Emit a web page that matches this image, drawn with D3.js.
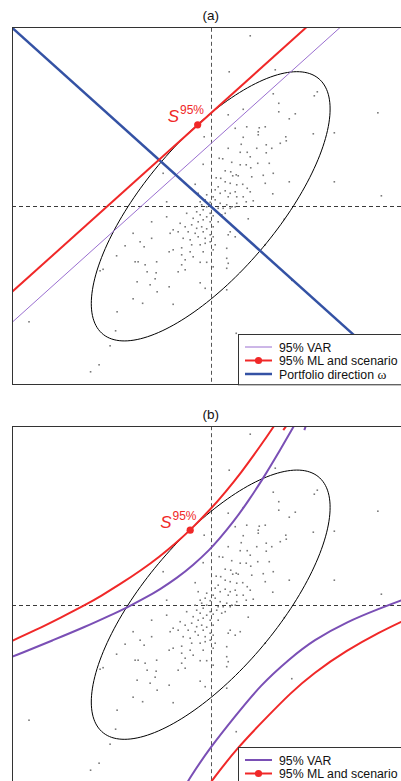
<!DOCTYPE html>
<html>
<head>
<meta charset="utf-8">
<script src="https://cdn.jsdelivr.net/npm/d3@7/dist/d3.min.js"></script>
<style>
  html, body { margin: 0; padding: 0; background: #fff; }
  svg { display: block; font-family: "Liberation Sans", Arial, sans-serif; }
</style>
</head>
<body>
<svg id="chart" width="401" height="781"></svg>
<script>
// ---- axis limits (data units) ----
const xLimits = [-3.97, 3.97];
const yLimits = [-3.57, 3.57];

// ---- panel titles ----
const panelTitles = ["(a)", "(b)"];

// ---- scatter of simulated returns (same sample in both panels) ----
const scatterX = [
  0.79, 0.37, 1.29, 2.13, 2.07, 1.25, 3.34, 0.35, 0.65, 1.36, 1.69, 1.57, 1.36, 0.49, 0.72, 0.97, 1.09,
  0.95, 0.95, 0.65, 1.50, 2.05, -0.13, 1.11, 1.22, 1.39, 1.51, 1.17, 1.25, 1.09, 1.57, 2.47, 1.24, 3.41,
  -1.18, -1.55, -1.41, -1.18, -1.71, -1.88, -1.51, -1.45, -1.08, -1.31, -2.15, -2.21, -1.27, -1.09,
  -1.47, -1.21, -1.07, -0.83, -0.21, 0.32, -1.55, -1.36, -0.75, -1.87, -3.63, -1.90, 0.51, -2.01, -2.23,
  -2.40, 2.47, 1.11, 1.47, 1.09, 1.62, -1.33, -1.11, -0.11, 1.05,
  0.61, 0.35, 0.59, 0.73, 0.79, 0.92, 0.17, 0.24, 0.42, 0.59, 0.71, 0.94, -0.15, 0.80, 0.29, 0.40, -0.95,
  0.51, 0.44, 0.55, 0.82, 0.11, 0.20, -0.31, 0.29, 0.39, 0.52, 0.64, 0.73, 0.15, 0.09, 0.29, 0.19, 0.39,
  0.49, 0.79, -0.25, -0.08, 0.05, 0.35, 0.52, 0.65, -0.21, -0.11, -0.01, -0.18, 0.09, 0.19, 0.32, 0.42,
  0.52, 0.71, 0.85, -0.88, -0.31, -0.08, 0.15, 0.25, 0.39, 0.49, -0.28, -0.15, -0.01, 0.12, -0.21, -0.08,
  0.05, 0.22, 0.29, -0.48, -0.35, -0.25, -0.15, -0.01, 0.15, -0.88, 0.75, -0.61, -0.51, -0.38, -0.28,
  -0.18, -0.08, 0.05, -0.75, -0.65, -0.45, -0.31, -0.15, -0.01, 0.39, -0.81, -0.55, -0.41, -0.25, -0.11,
  0.05, 0.35, 0.49, 0.59, -0.38, -0.21, -0.11, -0.01, 0.09, -0.75, -0.58, -0.41, -0.15, 0.05, 0.32,
  -0.83, -0.58, -0.35, -0.51, -0.21, -0.08, 0.32, 0.35, -0.58, 0.05, 0.32, -0.65, -0.51
];
const scatterY = [
  3.41, 2.69, 2.73, 2.29, 2.21, 2.25, 1.87, 1.83, 1.94, 1.89, 1.85, 1.75, 2.06, 1.56, 1.59, 1.57, 1.59,
  1.49, 1.43, 1.38, 1.39, 1.45, 1.39, 1.23, 1.16, 1.26, 1.31, 0.86, 0.66, 0.46, 0.49, 0.49, 0.25, 0.21,
  -0.31, -0.54, -0.71, -0.64, -0.79, -0.99, -1.11, -1.11, -1.11, -1.17, -1.26, -1.29, -1.31, -1.33,
  -1.51, -1.57, -1.71, -1.61, -1.53, -1.67, -1.85, -1.94, -1.96, -2.11, -2.31, -2.49, -2.54, -2.79, -3.17,
  -3.31, 1.47, 1.07, -0.26, -0.77, -1.48, -0.81, -1.45, -1.64, 0.62,
  1.24, 1.16, 1.08, 1.08, 0.99, 1.16, 0.96, 0.95, 0.88, 0.83, 0.83, 0.86, 0.84, 0.77, 0.71, 0.69, 0.66,
  0.63, 0.61, 0.61, 0.59, 0.57, 0.56, 0.44, 0.49, 0.46, 0.43, 0.44, 0.36, 0.39, 0.33, 0.31, 0.26, 0.26,
  0.29, 0.29, 0.26, 0.23, 0.19, 0.19, 0.19, 0.19, 0.09, 0.13, 0.08, 0.03, 0.13, 0.06, 0.03, -0.01,
  0.06, 0.09, 0.11, 0.09, -0.01, -0.01, -0.04, -0.04, -0.04, -0.01, -0.11, -0.07, -0.14, -0.11, -0.17, -0.21,
  -0.19, -0.17, -0.14, -0.14, -0.24, -0.31, -0.27, -0.31, -0.31, -0.21, -0.25, -0.34, -0.41, -0.37, -0.44,
  -0.41, -0.45, -0.41, -0.47, -0.51, -0.51, -0.54, -0.51, -0.57, -0.51, -0.54, -0.64, -0.67, -0.61, -0.64,
  -0.61, -0.57, -0.61, -0.54, -0.77, -0.77, -0.74, -0.71, -0.77, -0.87, -0.83, -0.91, -0.91, -0.87, -0.84,
  -0.91, -0.97, -1.01, -1.07, -1.12, -1.12, -1.04, -1.14, -1.17, -1.21, -1.24, -1.31, -1.27
];

// ---- 95% confidence ellipse: covariance [varX, cov, varY] and chi-square radius ----
const covariance = [0.95, 0.775, 1.21];
const ellipseRadius = 2.4477;

// ---- panel (a): straight lines y = slope * x + intercept ----
const lineNamesA = ["95% VAR", "95% ML and scenario", "Portfolio direction ω"];
const lineSlopesA = [0.9, 0.9, -0.9];
const lineInterceptsA = [1.25, 1.86, 0];
const scenarioA = [-0.26, 1.63];

// ---- panel (b): curved level sets ----
const lineNamesB = ["95% VAR", "95% ML and scenario"];
const varCurveUpper = [[1.75,3.73],[1.65,3.55],[1.35,3.03],[1.05,2.53],[0.75,2.07],[0.45,1.65],[0.15,1.29],[-0.01,1.11],[-0.35,0.79],[-0.68,0.53],[-1.01,0.31],[-1.30,0.14],[-1.68,-0.06],[-2.00,-0.21],[-2.50,-0.44],[-3.15,-0.71],[-3.81,-0.98],[-4.05,-1.07]];
const varCurveLower = [[4.21,0.23],[3.81,0.09],[3.39,-0.07],[2.72,-0.34],[2.05,-0.71],[1.59,-1.07],[0.99,-1.61],[0.49,-2.23],[0.00,-2.84],[-0.45,-3.51],[-0.55,-3.71]];
const mlCurveUpper = [[1.40,3.78],[1.25,3.55],[0.99,3.17],[0.60,2.63],[0.30,2.26],[0.00,1.91],[-0.41,1.49],[-0.70,1.23],[-1.01,0.97],[-1.40,0.68],[-1.81,0.41],[-2.20,0.17],[-2.48,0.01],[-3.00,-0.26],[-3.50,-0.51],[-4.05,-0.76]];
const mlCurveLower = [[4.21,-0.15],[3.81,-0.34],[3.39,-0.54],[2.72,-0.91],[2.05,-1.37],[1.59,-1.77],[1.12,-2.25],[0.55,-2.84],[0.02,-3.52],[-0.11,-3.71]];
const mlFragment = [[1.45,3.49],[1.53,3.60]];
const varFragment = [[1.87,3.49],[1.91,3.60]];
const scenarioB = [-0.41, 1.49];

// ---- colours ----
const colVar = "#9a6fd0";
const colVarB = "#7a4fb5";
const colML = "#f02828";
const colDir = "#3452a4";

// ---- layout ----
const svg = d3.select("#chart");
const x = d3.scaleLinear().domain(xLimits).range([12, 409.4]);
const panels = [
  { top: 27.8, bottom: 384.8, legendTop: 334 },
  { top: 426.2, bottom: 783.2, legendTop: 747 }
];

function buildPanel(idx) {
  const p = panels[idx];
  const y = d3.scaleLinear().domain(yLimits).range([p.bottom, p.top]);
  const g = svg.append("g");
  const clipId = "clip" + idx;
  svg.append("defs").append("clipPath").attr("id", clipId)
    .append("rect").attr("x", x(xLimits[0])).attr("y", p.top)
    .attr("width", x(xLimits[1]) - x(xLimits[0])).attr("height", p.bottom - p.top);
  const inner = g.append("g").attr("clip-path", `url(#${clipId})`);

  // dashed axes through the origin
  inner.append("line").attr("x1", x(xLimits[0])).attr("x2", x(xLimits[1]))
    .attr("y1", Math.round(y(0)) + 0.5).attr("y2", Math.round(y(0)) + 0.5)
    .attr("stroke", "#3a3a3a").attr("stroke-width", 1).attr("stroke-dasharray", "4,3");
  inner.append("line").attr("x1", Math.round(x(0)) + 0.5).attr("x2", Math.round(x(0)) + 0.5)
    .attr("y1", p.top).attr("y2", p.bottom)
    .attr("stroke", "#555").attr("stroke-width", 1).attr("stroke-dasharray", "4,3");

  // scatter
  inner.append("g").selectAll("rect").data(d3.range(scatterX.length)).join("rect")
    .attr("x", i => x(scatterX[i]) - 0.8).attr("y", i => y(scatterY[i]) - 0.8)
    .attr("width", 1.6).attr("height", 1.6).attr("fill", "#7a7a7a");

  // ellipse from covariance (Cholesky factor)
  const [a, b, c] = covariance;
  const l11 = Math.sqrt(a), l21 = b / l11, l22 = Math.sqrt(c - l21 * l21);
  const ell = d3.range(0, 360, 2).map(t => {
    const r = t * Math.PI / 180, u = ellipseRadius * Math.cos(r), v = ellipseRadius * Math.sin(r);
    return [l11 * u, l21 * u + l22 * v];
  });
  inner.append("path").attr("d", d3.line().x(d => x(d[0])).y(d => y(d[1])).curve(d3.curveCardinalClosed)(ell))
    .attr("fill", "none").attr("stroke", "#000").attr("stroke-width", 1);

  const lineGen = d3.line().x(d => x(d[0])).y(d => y(d[1]));
  if (idx === 0) {
    const styles = [
      { col: colVar, w: 1 },
      { col: colML, w: 2 },
      { col: colDir, w: 2.5 }
    ];
    [0, 2, 1].forEach(i => {
      const pts = [xLimits[0] - 1, xLimits[1] + 1].map(xv => [xv, lineSlopesA[i] * xv + lineInterceptsA[i]]);
      inner.append("path").attr("d", lineGen(pts)).attr("fill", "none")
        .attr("stroke", styles[i].col).attr("stroke-width", styles[i].w);
    });
    inner.append("circle").attr("cx", x(scenarioA[0])).attr("cy", y(scenarioA[1])).attr("r", 3.6).attr("fill", colML);
  } else {
    const curveGen = d3.line().x(d => x(d[0])).y(d => y(d[1])).curve(d3.curveBasis);
    [varCurveUpper, varCurveLower, varFragment].forEach(cv =>
      inner.append("path").attr("d", curveGen(cv)).attr("fill", "none").attr("stroke", colVarB).attr("stroke-width", 2));
    [mlCurveUpper, mlCurveLower, mlFragment].forEach(cv =>
      inner.append("path").attr("d", curveGen(cv)).attr("fill", "none").attr("stroke", colML).attr("stroke-width", 2));
    inner.append("circle").attr("cx", x(scenarioB[0])).attr("cy", y(scenarioB[1])).attr("r", 3.6).attr("fill", colML);
  }

  // S^95% label
  const sp = idx === 0 ? scenarioA : scenarioB;
  const lbl = g.append("text").attr("x", x(sp[0]) - 30).attr("y", y(sp[1]) - 2.5)
    .attr("fill", colML).attr("font-size", 17);
  lbl.append("tspan").attr("font-style", "italic").text("S");
  lbl.append("tspan").attr("font-size", 12).attr("dy", -8).attr("dx", 1).text("95%");

  // frame
  g.append("rect").attr("x", x(xLimits[0])).attr("y", p.top)
    .attr("width", x(xLimits[1]) - x(xLimits[0])).attr("height", p.bottom - p.top)
    .attr("fill", "none").attr("stroke", "#333").attr("stroke-width", 1).attr("shape-rendering", "crispEdges");

  // title
  g.append("text").attr("x", x(0)).attr("y", p.top - 7.5).attr("text-anchor", "middle")
    .attr("font-size", 13.5).attr("fill", "#111").text(panelTitles[idx]);

  // legend
  const names = idx === 0 ? lineNamesA : lineNamesB;
  const cols = idx === 0 ? [colVar, colML, colDir] : [colVarB, colML];
  const widths = idx === 0 ? [1, 2, 2.5] : [2, 2];
  const ly0 = p.legendTop;
  const lg = g.append("g");
  lg.append("rect").attr("x", 238.5).attr("y", ly0 + 0.5).attr("width", 200)
    .attr("height", idx === 0 ? p.bottom - ly0 - 0.5 : 60)
    .attr("fill", "#fff").attr("stroke", "#333").attr("stroke-width", 1);
  names.forEach((n, i) => {
    const yy = ly0 + 13 + i * 13.5;
    lg.append("line").attr("x1", 245).attr("x2", 272).attr("y1", yy).attr("y2", yy)
      .attr("stroke", cols[i]).attr("stroke-width", widths[i]);
    if (i === 1) lg.append("circle").attr("cx", 258.5).attr("cy", yy).attr("r", 3.6).attr("fill", colML);
    const t = lg.append("text").attr("x", 279).attr("y", yy + 4.5).attr("font-size", 12.3).attr("fill", "#111");
    if (n.endsWith("ω")) {
      t.append("tspan").text(n.slice(0, -1));
      t.append("tspan").attr("font-family", "Liberation Serif, serif").attr("font-size", 13.5).text("ω");
    } else t.text(n);
  });
}

buildPanel(0);
buildPanel(1);
</script>
</body>
</html>
